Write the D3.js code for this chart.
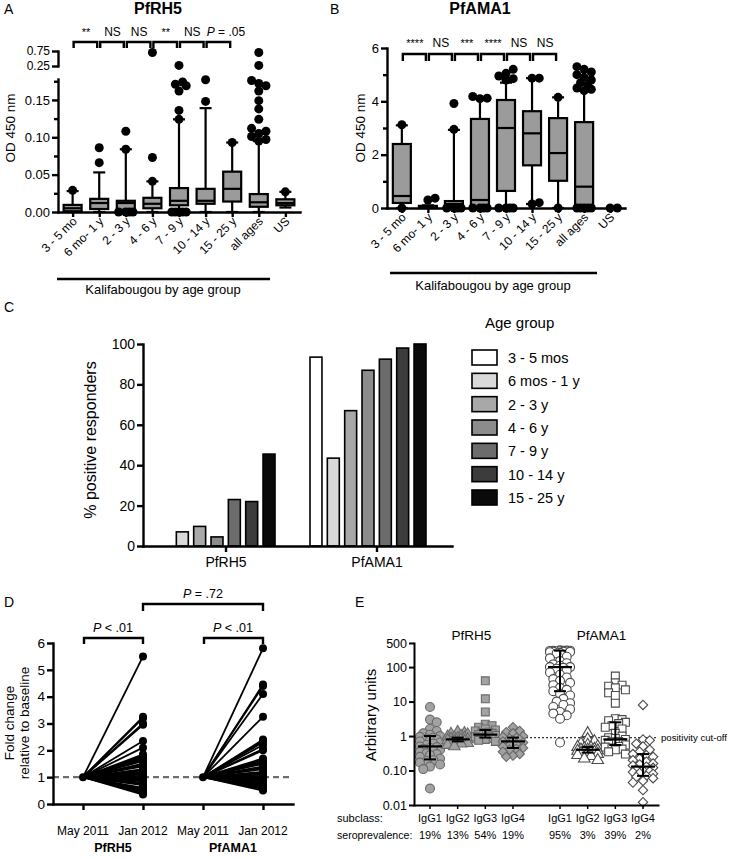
<!DOCTYPE html>
<html><head><meta charset="utf-8">
<script src="https://cdn.jsdelivr.net/npm/d3@7"></script>
<style>body{margin:0;background:#fff}svg{display:block}</style>
</head><body><svg id="c" width="731" height="859"></svg>
<script>
// ---------------- DATA ----------------
// Panels A & B: box plots by age group
const boxGroups = ["3 - 5 mo","6 mo- 1 y","2 - 3 y","4 - 6 y","7 - 9 y","10 - 14 y","15 - 25 y","all ages","US"];
// A: PfRH5 OD 450 nm
const rh5Lo  = [0, 0, 0, 0, 0, 0, 0, 0, 0.006];
const rh5Q1  = [0.001, 0.004, 0.003, 0.005, 0.009, 0.011, 0.014, 0.007, 0.009];
const rh5Med = [0.005, 0.012, 0.012, 0.011, 0.015, 0.015, 0.031, 0.013, 0.012];
const rh5Q3  = [0.0095, 0.0176, 0.015, 0.019, 0.032, 0.031, 0.054, 0.024, 0.017];
const rh5Hi  = [0.028, 0.053, 0.084, 0.041, 0.124, 0.139, 0.093, 0.095, 0.027];
const rh5Out = [
  [0.029],
  [0.066, 0.086],
  [0.084, 0.108, 0, 0, 0, 0],
  [0.041, 0.073, 0.7],
  [0.124, 0.136, 0.162, 0.169, 0.171, 0.174, 0.27, 0, 0, 0, 0, 0],
  [0.148, 0.177],
  [0.093],
  [0.095, 0.097, 0.101, 0.105, 0.108, 0.112, 0.124, 0.138, 0.149, 0.162, 0.169, 0.172, 0.176, 0.27, 0.7],
  [0.027]
];
const rh5Sig = ["**", "NS", "NS", "**", "NS", "P = .05"];
// B: PfAMA1 OD 450 nm
const ama1Lo  = [0, 0, 0, 0, 0, 0.15, 0, 0, 0];
const ama1Q1  = [0.19, 0, 0, 0, 0.64, 1.6, 1.02, 0, 0];
const ama1Med = [0.45, 0.05, 0.15, 0.3, 3.0, 2.8, 2.06, 0.8, 0];
const ama1Q3  = [2.4, 0.08, 0.26, 3.34, 4.05, 3.63, 3.37, 3.22, 0];
const ama1Hi  = [3.1, 0.1, 2.93, 4.1, 4.7, 4.87, 4.15, 4.4, 0];
const ama1Out = [
  [3.12, 0],
  [0.3, 0.37],
  [2.95, 3.92, 0, 0, 0, 0],
  [4.1, 4.12, 4.18, 0, 0, 0, 0],
  [4.8, 4.85, 4.95, 5.05, 5.2, 0, 0, 0, 0],
  [4.87, 4.87, 0.15, 0.2],
  [4.15, 0],
  [4.4, 4.45, 4.5, 4.6, 4.7, 4.8, 4.9, 5.0, 5.1, 5.2, 5.3, 0, 0, 0, 0, 0],
  [0, 0]
];
const ama1Sig = ["****", "NS", "***", "****", "NS", "NS"];

// Panel C: % positive responders
const antigens = ["PfRH5", "PfAMA1"];
const legendAges = ["3 - 5 mos","6 mos - 1 y","2 - 3 y","4 - 6 y","7 - 9 y","10 - 14 y","15 - 25 y"];
const pctRH5  = [0, 7, 9.7, 4.5, 23, 22, 45.5];
const pctAMA1 = [93.5, 43.5, 67, 87, 92.5, 98, 100];

// Panel D: fold change relative to baseline (May 2011 = 1)
const timeCats = ["May 2011", "Jan 2012"];
const foldRH5 = [5.5, 3.25, 3.2, 3.0, 2.95, 2.35, 2.1, 1.85, 1.8, 1.75, 1.7, 1.65, 1.6, 1.5, 1.45, 1.4, 1.3, 1.25, 1.2, 1.15, 1.1, 1.05, 1.0, 0.95, 0.9, 0.85, 0.8, 0.75, 0.7, 0.6, 0.55, 0.5, 0.45, 0.4, 0.35];
const foldAMA1 = [5.8, 4.45, 4.4, 4.1, 3.25, 2.4, 2.35, 2.3, 2.2, 2.05, 2.0, 1.7, 1.65, 1.6, 1.55, 1.5, 1.4, 1.35, 1.3, 1.2, 1.15, 1.1, 1.05, 1.0, 0.95, 0.9, 0.85, 0.8, 0.75, 0.7, 0.65, 0.6, 0.55, 0.5];

// Panel E: IgG subclasses (arbitrary units)
const subclasses = ["IgG1", "IgG2", "IgG3", "IgG4"];
const seroRH5  = ["19%", "13%", "54%", "19%"];
const seroAMA1 = ["95%", "3%", "39%", "2%"];
const rh5IgG1 = [7, 3, 2.5, 1.6, 1.4, 1.2, 1.1, 1.0, 0.95, 0.9, 0.85, 0.8, 0.75, 0.7, 0.65, 0.6, 0.55, 0.5, 0.48, 0.45, 0.42, 0.4, 0.38, 0.35, 0.32, 0.3, 0.28, 0.25, 0.22, 0.2, 0.19, 0.17, 0.15, 0.13, 0.11, 0.03];
const rh5IgG2 = [1.3, 1.2, 1.15, 1.1, 1.0, 0.95, 0.9, 0.88, 0.85, 0.82, 0.8, 0.78, 0.75, 0.72, 0.7, 0.68, 0.65, 0.62, 0.6, 0.55, 0.5];
const rh5IgG3 = [40, 12, 5, 2.2, 2.0, 1.8, 1.6, 1.5, 1.4, 1.3, 1.25, 1.2, 1.15, 1.1, 1.05, 1.0, 0.95, 0.9, 0.85, 0.8, 0.75, 0.7];
const rh5IgG4 = [1.8, 1.4, 1.3, 1.2, 1.0, 0.95, 0.9, 0.85, 0.8, 0.75, 0.7, 0.65, 0.6, 0.55, 0.5, 0.45, 0.42, 0.4, 0.35, 0.3, 0.27, 0.25];
const ama1IgG1 = [310, 305, 300, 300, 300, 295, 290, 290, 285, 280, 280, 275, 270, 260, 250, 200, 180, 150, 130, 120, 110, 100, 100, 95, 90, 80, 70, 60, 50, 45, 40, 35, 30, 25, 22, 20, 17, 15, 12, 10, 9, 8, 7, 6, 5, 4.5, 4, 3.2, 0.65];
const ama1IgG2 = [1.2, 0.8, 0.7, 0.6, 0.55, 0.5, 0.48, 0.46, 0.44, 0.42, 0.4, 0.4, 0.38, 0.37, 0.36, 0.35, 0.34, 0.33, 0.32, 0.3, 0.28, 0.26, 0.22, 0.2];
const ama1IgG3 = [55, 35, 30, 28, 25, 22, 18, 15, 9, 3.2, 3.0, 2.8, 2.5, 2.3, 2.0, 1.8, 1.6, 1.2, 1.0, 0.9, 0.85, 0.8, 0.75, 0.7, 0.68, 0.65, 0.6, 0.58, 0.55, 0.5, 0.48, 0.45, 0.42, 0.4, 0.35, 0.3];
const ama1IgG4 = [8, 0.8, 0.75, 0.6, 0.5, 0.4, 0.35, 0.3, 0.28, 0.25, 0.22, 0.2, 0.18, 0.16, 0.15, 0.14, 0.13, 0.12, 0.11, 0.1, 0.095, 0.09, 0.085, 0.08, 0.07, 0.065, 0.06, 0.05, 0.045, 0.027, 0.012];
const rh5Summ  = { med: [0.5, 0.8, 1.1, 0.7],   lo: [0.21, 0.7, 0.9, 0.45],  hi: [1.0, 0.9, 1.5, 0.9] };
const ama1Summ = { med: [100, 0.4, 0.8, 0.13], lo: [20, 0.33, 0.55, 0.07], hi: [300, 0.48, 2.5, 0.3] };
const cutoff = 0.9;

// ---------------- STYLE ----------------
const FONT = "'Liberation Sans', Arial, Helvetica, sans-serif";
const AXW = 2.4;
const ageFills = ["#ffffff","#d9d9d9","#a8a8a8","#8c8c8c","#6c6c6c","#3c3c3c","#0a0a0a"];
const svg = d3.select("#c").attr("font-family", FONT);

function styleAxis(g, fs) {
  g.attr("font-family", FONT).attr("font-size", fs);
  g.select(".domain").attr("stroke", "#000").attr("stroke-width", AXW).attr("stroke-linecap", "square");
  g.selectAll(".tick line").attr("stroke", "#000").attr("stroke-width", AXW);
  g.selectAll(".tick text").attr("fill", "#000");
}
function txt(x, y, s, opts = {}) {
  const t = svg.append("text").attr("x", x).attr("y", y).text(s)
    .attr("font-size", opts.fs || 13).attr("fill", "#000")
    .attr("text-anchor", opts.anchor || "start");
  if (opts.bold) t.attr("font-weight", "bold");
  if (opts.rotate) t.attr("transform", `rotate(${opts.rotate},${x},${y})`);
  return t;
}
function sigText(x, y, s, fs) {
  const t = svg.append("text").attr("x", x).attr("y", y).attr("text-anchor", "middle")
    .attr("font-size", fs).attr("fill", "#000");
  if (s.startsWith("P")) {
    t.append("tspan").attr("font-style", "italic").text("P");
    t.append("tspan").text(s.slice(1));
  } else t.text(s);
  return t;
}
function bracket(x1, x2, y, h) {
  svg.append("path").attr("d", `M${x1},${y + h}V${y}H${x2}V${y + h}`)
    .attr("fill", "none").attr("stroke", "#000").attr("stroke-width", 2.4);
}
// deterministic horizontal dodge for overlapping markers
function dodge(vals, yf, r, maxOff, k) {
  const placed = [];
  return vals.map(v => {
    const py = yf(v);
    let best = 0, bestScore = -Infinity;
    for (let i = 0; i < 40; i++) {
      const off = i === 0 ? 0 : (i % 2 ? 1 : -1) * Math.ceil(i / 2) * r * 0.8;
      if (Math.abs(off) > maxOff) break;
      let minD = Infinity;
      placed.forEach(p => { minD = Math.min(minD, Math.hypot(p[0] - off, p[1] - py)); });
      if (minD >= 2 * r * k) { best = off; bestScore = Infinity; break; }
      if (minD > bestScore) { bestScore = minD; best = off; }
    }
    placed.push([best, py]);
    return { v, dx: best, y: py };
  });
}

// ---------------- BOX PLOT PANEL ----------------
function boxPanel(cfg) {
  const { x, y, lo, q1, med, q3, hi, outs } = cfg;
  const g = svg.append("g");
  const bw = 18, cw = 12;
  boxGroups.forEach((c, i) => {
    const cx = x(c);
    const hasBox = !(q3[i] === 0 && hi[i] === 0);
    if (hasBox) {
      g.append("line").attr("x1", cx).attr("x2", cx).attr("y1", y(hi[i])).attr("y2", y(q3[i]))
        .attr("stroke", "#000").attr("stroke-width", 2.2);
      g.append("line").attr("x1", cx).attr("x2", cx).attr("y1", y(q1[i])).attr("y2", y(lo[i]))
        .attr("stroke", "#000").attr("stroke-width", 2.2);
      [hi[i], lo[i]].forEach(v => g.append("line").attr("x1", cx - cw / 2).attr("x2", cx + cw / 2)
        .attr("y1", y(v)).attr("y2", y(v)).attr("stroke", "#000").attr("stroke-width", 2.2));
      g.append("rect").attr("x", cx - bw / 2).attr("width", bw)
        .attr("y", y(q3[i])).attr("height", Math.max(1, y(q1[i]) - y(q3[i])))
        .attr("fill", "#9b9b9b").attr("stroke", "#000").attr("stroke-width", 2.2);
      g.append("line").attr("x1", cx - bw / 2).attr("x2", cx + bw / 2)
        .attr("y1", y(med[i])).attr("y2", y(med[i])).attr("stroke", "#000").attr("stroke-width", 2.2);
    }
    const pts = dodge(outs[i].slice().sort((a, b) => a - b), y, 4.5, 10, 0.75);
    g.selectAll(null).data(pts).enter().append("circle")
      .attr("cx", d => cx + d.dx).attr("cy", d => d.y).attr("r", 4.5).attr("fill", "#000");
  });
}

// ================= PANEL A =================
txt(4, 14, "A", { fs: 14 });
txt(158, 14, "PfRH5", { fs: 16, bold: true, anchor: "middle" });
const xA = d3.scalePoint().domain(boxGroups).range([58, 300]).padding(0.55);
const yAmain = d3.scaleLinear().domain([0, 0.178]).range([212, 79]);
const yAup = d3.scaleLinear().domain([0.25, 0.75]).range([66, 51]);
const yA = v => v > 0.2 ? yAup(v) : yAmain(v);
{
  const ga = svg.append("g").attr("transform", "translate(58,0)")
    .call(d3.axisLeft(yAmain).tickValues([0, 0.05, 0.10, 0.15]).tickFormat(d3.format(".2f")).tickSize(6).tickSizeOuter(0));
  styleAxis(ga, 13);
  ga.selectAll(".tick text").attr("x", -8);
  const gm = svg.append("g").attr("transform", "translate(58,0)")
    .call(d3.axisLeft(yAmain).tickValues([0.025, 0.075, 0.125, 0.175]).tickFormat("").tickSize(4).tickSizeOuter(0));
  styleAxis(gm, 13); gm.select(".domain").remove();
  const gu = svg.append("g").attr("transform", "translate(58,0)")
    .call(d3.axisLeft(yAup).tickValues([0.25, 0.75]).tickFormat(d3.format(".2f")).tickSize(6).tickSizeOuter(0));
  styleAxis(gu, 12); gu.selectAll(".tick text").attr("x", -8);
  const gx = svg.append("g").attr("transform", "translate(0,212)")
    .call(d3.axisBottom(xA).tickSize(5).tickSizeOuter(0).tickFormat(""));
  styleAxis(gx, 13);
  boxGroups.forEach(c => txt(xA(c) + 5, 222, c, { fs: 12, anchor: "end", rotate: -45 }));
  txt(15, 128, "OD 450 nm", { fs: 13.5, anchor: "middle", rotate: -90 });
  svg.append("line").attr("x1", 57).attr("x2", 270).attr("y1", 279).attr("y2", 279).attr("stroke", "#000").attr("stroke-width", 2.4);
  txt(163, 294, "Kalifabougou by age group", { fs: 13, anchor: "middle" });
}
boxPanel({ x: xA, y: yA, lo: rh5Lo, q1: rh5Q1, med: rh5Med, q3: rh5Q3, hi: rh5Hi, outs: rh5Out });
rh5Sig.forEach((s, i) => {
  const a = xA(boxGroups[i]), b = xA(boxGroups[i + 1]);
  bracket(a + 1, b - 2, 42, 6);
  const shift = s.startsWith("P") ? 7 : 0;
  sigText((a + b) / 2 + shift, 36, s, s.startsWith("*") ? 11 : 12);
});

// ================= PANEL B =================
txt(330, 14, "B", { fs: 14 });
txt(480, 14, "PfAMA1", { fs: 16, bold: true, anchor: "middle" });
const xB = d3.scalePoint().domain(boxGroups).range([387, 625]).padding(0.57);
const yB = d3.scaleLinear().domain([0, 6]).range([208, 48]);
{
  const ga = svg.append("g").attr("transform", "translate(387,0)")
    .call(d3.axisLeft(yB).tickValues([0, 2, 4, 6]).tickFormat(d3.format("d")).tickSize(6).tickSizeOuter(0));
  styleAxis(ga, 13); ga.selectAll(".tick text").attr("x", -8);
  const gm = svg.append("g").attr("transform", "translate(387,0)")
    .call(d3.axisLeft(yB).tickValues([1, 3, 5]).tickFormat("").tickSize(4).tickSizeOuter(0));
  styleAxis(gm, 13); gm.select(".domain").remove();
  const gx = svg.append("g").attr("transform", "translate(0,208)")
    .call(d3.axisBottom(xB).tickSize(5).tickSizeOuter(0).tickFormat(""));
  styleAxis(gx, 13);
  boxGroups.forEach(c => txt(xB(c) + 5, 218, c, { fs: 12, anchor: "end", rotate: -45 }));
  txt(365, 128, "OD 450 nm", { fs: 13.5, anchor: "middle", rotate: -90 });
  svg.append("line").attr("x1", 390).attr("x2", 597).attr("y1", 273).attr("y2", 273).attr("stroke", "#000").attr("stroke-width", 2.4);
  txt(493, 290, "Kalifabougou by age group", { fs: 13, anchor: "middle" });
}
boxPanel({ x: xB, y: yB, lo: ama1Lo, q1: ama1Q1, med: ama1Med, q3: ama1Q3, hi: ama1Hi, outs: ama1Out });
ama1Sig.forEach((s, i) => {
  const a = xB(boxGroups[i]), b = xB(boxGroups[i + 1]);
  bracket(a + 1, b - 2, 54, 7);
  sigText((a + b) / 2, 47, s, s.startsWith("*") ? 11 : 12);
});

// ================= PANEL C =================
txt(4, 312, "C", { fs: 14 });
{
  const yC = d3.scaleLinear().domain([0, 100]).range([546, 344]);
  const x0 = d3.scalePoint().domain(antigens).range([226, 377]);
  const x1 = d3.scaleBand().domain(legendAges).range([-67, 49]).paddingInner(0.31);
  const series = { PfRH5: pctRH5, PfAMA1: pctAMA1 };
  antigens.forEach(a => {
    legendAges.forEach((ag, j) => {
      const v = series[a][j];
      if (v <= 0) return;
      svg.append("rect").attr("x", x0(a) + x1(ag)).attr("width", x1.bandwidth())
        .attr("y", yC(v)).attr("height", yC(0) - yC(v))
        .attr("fill", ageFills[j]).attr("stroke", "#000").attr("stroke-width", 1.6);
    });
  });
  const gy = svg.append("g").attr("transform", "translate(143,0)")
    .call(d3.axisLeft(yC).tickValues([0, 20, 40, 60, 80, 100]).tickSize(6).tickSizeOuter(0));
  styleAxis(gy, 14); gy.selectAll(".tick text").attr("x", -8);
  const xC = d3.scaleLinear().domain([0, 1]).range([143, 452]);
  const gx = svg.append("g").attr("transform", "translate(0,546)")
    .call(d3.axisBottom(xC).tickValues([]).tickSizeOuter(0));
  styleAxis(gx, 14);
  antigens.forEach(a => {
    svg.append("line").attr("x1", x0(a)).attr("x2", x0(a)).attr("y1", 546).attr("y2", 552)
      .attr("stroke", "#000").attr("stroke-width", AXW);
    txt(x0(a), 567, a, { fs: 14, anchor: "middle" });
  });
  txt(96, 440, "% positive responders", { fs: 16, anchor: "middle", rotate: -90 });
  // legend
  txt(485, 328, "Age group", { fs: 15 });
  const ly = d3.scalePoint().domain(legendAges).range([350, 490]);
  legendAges.forEach((ag, j) => {
    svg.append("rect").attr("x", 472).attr("y", ly(ag)).attr("width", 25).attr("height", 15)
      .attr("fill", ageFills[j]).attr("stroke", "#000").attr("stroke-width", 1.6);
    txt(508, ly(ag) + 13, ag, { fs: 14.5 });
  });
}

// ================= PANEL D =================
txt(4, 607, "D", { fs: 14 });
{
  const keys = ["RH5|May 2011", "RH5|Jan 2012", "AMA|May 2011", "AMA|Jan 2012"];
  const xD = d3.scalePoint().domain(keys).range([53, 293]).padding(0.5);
  const yD = d3.scaleLinear().domain([0, 6]).range([804, 643]);
  svg.append("line").attr("x1", 53).attr("x2", 293).attr("y1", yD(1)).attr("y2", yD(1))
    .attr("stroke", "#6e6e6e").attr("stroke-width", 2.2).attr("stroke-dasharray", "6,4");
  const drawSlopes = (pre, vals) => {
    const xa = xD(pre + "|May 2011"), xb = xD(pre + "|Jan 2012");
    vals.forEach(v => {
      svg.append("line").attr("x1", xa).attr("y1", yD(1)).attr("x2", xb).attr("y2", yD(v))
        .attr("stroke", "#000").attr("stroke-width", 1.8);
    });
    vals.forEach(v => svg.append("circle").attr("cx", xb).attr("cy", yD(v)).attr("r", 4).attr("fill", "#000"));
    svg.append("circle").attr("cx", xa).attr("cy", yD(1)).attr("r", 4).attr("fill", "#000");
  };
  drawSlopes("RH5", foldRH5);
  drawSlopes("AMA", foldAMA1);
  const gy = svg.append("g").attr("transform", "translate(53,0)")
    .call(d3.axisLeft(yD).tickValues([0, 1, 2, 3, 4, 5, 6]).tickFormat(d3.format("d")).tickSize(6).tickSizeOuter(0));
  styleAxis(gy, 13.5); gy.selectAll(".tick text").attr("x", -8);
  const gx = svg.append("g").attr("transform", "translate(0,804)")
    .call(d3.axisBottom(xD).tickSize(6).tickSizeOuter(0).tickFormat(""));
  styleAxis(gx, 13);
  keys.forEach(k => txt(xD(k), 835, k.split("|")[1], { fs: 12, anchor: "middle" }));
  txt((xD(keys[0]) + xD(keys[1])) / 2, 852, "PfRH5", { fs: 12.5, bold: true, anchor: "middle" });
  txt((xD(keys[2]) + xD(keys[3])) / 2, 852, "PfAMA1", { fs: 12.5, bold: true, anchor: "middle" });
  txt(14, 723, "Fold change", { fs: 13.5, anchor: "middle", rotate: -90 });
  txt(29, 723, "relative to baseline", { fs: 13.5, anchor: "middle", rotate: -90 });
  bracket(xD(keys[0]) + 1, xD(keys[1]), 638, 6);
  sigText((xD(keys[0]) + xD(keys[1])) / 2, 632, "P < .01", 12.5);
  bracket(xD(keys[2]) + 1, xD(keys[3]), 638, 6);
  sigText((xD(keys[2]) + xD(keys[3])) / 2, 632, "P < .01", 12.5);
  bracket(xD(keys[1]), xD(keys[3]), 604, 7);
  sigText((xD(keys[1]) + xD(keys[3])) / 2, 598, "P = .72", 12.5);
}

// ================= PANEL E =================
txt(355, 607, "E", { fs: 14 });
{
  const yE = d3.scaleLog().domain([0.01, 500]).range([805, 643]);
  const xE = d3.scaleLinear().domain([0, 7.7]).range([430, 643]);
  const posE = (grp, i) => xE(i + (grp === 1 ? 4.7 : 0));
  const rh5Sets = [rh5IgG1, rh5IgG2, rh5IgG3, rh5IgG4];
  const amaSets = [ama1IgG1, ama1IgG2, ama1IgG3, ama1IgG4];
  const shapes = [d3.symbolCircle, d3.symbolTriangle, d3.symbolSquare, d3.symbolSquare];
  const sizes = [62, 58, 62, 44];
  svg.append("line").attr("x1", 414).attr("x2", 658).attr("y1", yE(cutoff)).attr("y2", yE(cutoff))
    .attr("stroke", "#333").attr("stroke-width", 1.3).attr("stroke-dasharray", "2,2");
  svg.append("text").attr("x", 661).attr("y", yE(cutoff) + 3.5).attr("font-size", 9.6).text("positivity cut-off");
  const drawSet = (grp, sets, summ, fill, stroke) => {
    sets.forEach((vals, i) => {
      const cx = posE(grp, i);
      const pts = dodge(vals.slice().sort((a, b) => b - a), yE, 4.2, 12, 0.72);
      const sym = d3.symbol().type(shapes[i]).size(sizes[i]);
      svg.selectAll(null).data(pts).enter().append("path")
        .attr("d", sym)
        .attr("transform", d => `translate(${cx + d.dx},${d.y})` + (i === 3 ? " rotate(45)" : ""))
        .attr("fill", fill).attr("stroke", stroke).attr("stroke-width", 1.1);
      const ym = yE(summ.med[i]), yl = yE(summ.lo[i]), yh = yE(summ.hi[i]);
      svg.append("line").attr("x1", cx).attr("x2", cx).attr("y1", yh).attr("y2", yl).attr("stroke", "#000").attr("stroke-width", 2);
      svg.append("line").attr("x1", cx - 12).attr("x2", cx + 12).attr("y1", ym).attr("y2", ym).attr("stroke", "#000").attr("stroke-width", 2.2);
      [yh, yl].forEach(yy => svg.append("line").attr("x1", cx - 6).attr("x2", cx + 6).attr("y1", yy).attr("y2", yy).attr("stroke", "#000").attr("stroke-width", 2));
    });
  };
  drawSet(0, rh5Sets, rh5Summ, "#a2a2a2", "#6a6a6a");
  drawSet(1, amaSets, ama1Summ, "#ffffff", "#4a4a4a");
  const gy = svg.append("g").attr("transform", "translate(414,0)")
    .call(d3.axisLeft(yE).tickValues([0.01, 0.1, 1, 10, 100, 500])
      .tickFormat(d => d < 1 ? d3.format(".2f")(d) : d3.format("d")(d)).tickSize(5).tickSizeOuter(0));
  styleAxis(gy, 12.5); gy.selectAll(".tick text").attr("x", -7);
  gy.select(".domain").attr("stroke-width", 2);
  gy.selectAll(".tick line").attr("stroke-width", 2);
  const gx = svg.append("g").attr("transform", "translate(0,805)")
    .call(d3.axisBottom(d3.scaleLinear().domain([0, 1]).range([414, 658])).tickValues([]).tickSizeOuter(0));
  styleAxis(gx, 12); gx.select(".domain").attr("stroke-width", 2);
  [0, 1].forEach(grp => subclasses.forEach((s, i) => {
    const cx = posE(grp, i);
    svg.append("line").attr("x1", cx).attr("x2", cx).attr("y1", 805).attr("y2", 809).attr("stroke", "#000").attr("stroke-width", 1.5);
    txt(cx, 822, s, { fs: 11, anchor: "middle" });
    txt(cx, 839, (grp ? seroAMA1 : seroRH5)[i], { fs: 11, anchor: "middle" });
  }));
  txt(337, 822, "subclass:", { fs: 11 });
  txt(337, 839, "seroprevalence:", { fs: 10.6 });
  txt((posE(0, 0) + posE(0, 3)) / 2, 640, "PfRH5", { fs: 13.5, anchor: "middle" });
  txt((posE(1, 0) + posE(1, 3)) / 2, 640, "PfAMA1", { fs: 13.5, anchor: "middle" });
  txt(376, 715, "Arbitrary units", { fs: 15, anchor: "middle", rotate: -90 });
}
</script></body></html>
